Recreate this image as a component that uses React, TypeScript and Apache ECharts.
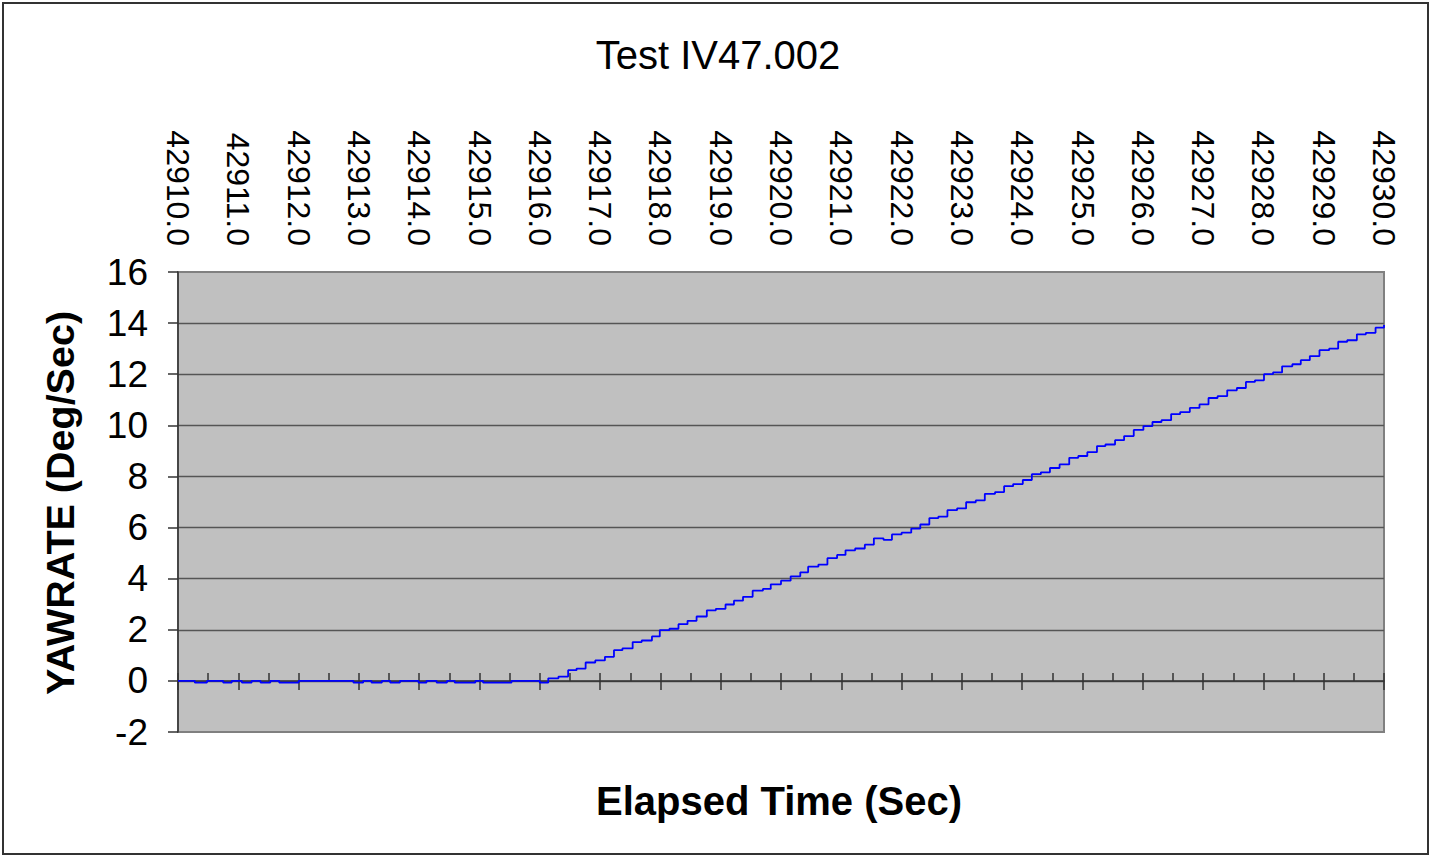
import React, { useEffect, useRef } from "react";
import * as echarts from "echarts";

const TITLE = "Test IV47.002";
const X_NAME = "Elapsed Time (Sec)";
const Y_NAME = "YAWRATE (Deg/Sec)";

const X_MIN = 42910;
const X_MAX = 42930;
const Y_MIN = -2;
const Y_MAX = 16;

// step change times (s) and the value held from that time on
const TIME = [
  42910.0, 42910.28, 42910.48, 42910.75, 42910.89, 42911.06, 42911.22, 42911.37, 42911.53, 42911.68,
  42912.0, 42912.91, 42913.07, 42913.21, 42913.38, 42913.52, 42913.68, 42913.99, 42914.12, 42914.29,
  42914.46, 42914.59, 42914.93, 42915.06, 42915.53, 42916.0,
  42916.14, 42916.31, 42916.47, 42916.61, 42916.76, 42916.92, 42917.08, 42917.23, 42917.37, 42917.54,
  42917.69, 42917.86, 42917.99, 42918.15, 42918.3, 42918.45, 42918.6, 42918.77, 42918.92, 42919.08,
  42919.22, 42919.37, 42919.53, 42919.7, 42919.83, 42920.0, 42920.16, 42920.32, 42920.45, 42920.62,
  42920.77, 42920.93, 42921.07, 42921.23, 42921.39, 42921.54, 42921.7, 42921.84, 42922.0, 42922.16,
  42922.31, 42922.46, 42922.61, 42922.76, 42922.92, 42923.07, 42923.23, 42923.38, 42923.55, 42923.7,
  42923.85, 42924.01, 42924.16, 42924.31, 42924.46, 42924.62, 42924.78, 42924.93, 42925.08, 42925.24,
  42925.38, 42925.54, 42925.69, 42925.85, 42926.01, 42926.16, 42926.31, 42926.47, 42926.62, 42926.78,
  42926.94, 42927.09, 42927.24, 42927.4, 42927.56, 42927.71, 42927.86, 42928.01, 42928.16, 42928.31,
  42928.48, 42928.62, 42928.77, 42928.93, 42929.09, 42929.24, 42929.39, 42929.55, 42929.7, 42929.86,
  42930.0,
];

const YAWRATE = [
  0, -0.07, 0, -0.07, 0, -0.07, 0, -0.07, 0, -0.07,
  0, -0.07, 0, -0.07, 0, -0.07, 0, -0.07, 0, -0.07,
  0, -0.07, 0, -0.07, 0, -0.07,
  0.1, 0.17, 0.42, 0.48, 0.72, 0.8, 0.94, 1.2, 1.27, 1.52,
  1.58, 1.74, 1.99, 2.04, 2.22, 2.35, 2.52, 2.76, 2.82, 2.99,
  3.14, 3.29, 3.53, 3.6, 3.78, 3.92, 4.09, 4.25, 4.47, 4.55,
  4.8, 4.93, 5.11, 5.18, 5.33, 5.58, 5.52, 5.73, 5.8, 5.96,
  6.12, 6.37, 6.43, 6.68, 6.75, 6.99, 7.06, 7.32, 7.39, 7.62,
  7.7, 7.86, 8.09, 8.16, 8.33, 8.47, 8.73, 8.8, 8.95, 9.19,
  9.25, 9.42, 9.58, 9.82, 9.97, 10.13, 10.2, 10.44, 10.52, 10.68,
  10.82, 11.07, 11.14, 11.37, 11.46, 11.7, 11.76, 12.0, 12.07, 12.31,
  12.39, 12.55, 12.71, 12.94, 13.0, 13.27, 13.33, 13.56, 13.62, 13.82,
  13.93,
];

const FONT = "'Liberation Sans', Arial, sans-serif";

export default function App() {
  const ref = useRef<HTMLDivElement>(null);

  useEffect(() => {
    if (!ref.current) return;
    const chart = echarts.init(ref.current, undefined, { renderer: "svg" });
    const data = TIME.map((t, i) => [t, YAWRATE[i]]);

    chart.setOption({
      animation: false,
      backgroundColor: "#ffffff",
      textStyle: { fontFamily: FONT },
      grid: {
        left: 178,
        top: 272,
        right: 50,
        bottom: 124,
        show: true,
        backgroundColor: "#C0C0C0",
        borderColor: "#808080",
        borderWidth: 2,
      },
      graphic: [
        {
          type: "rect",
          shape: { x: 3, y: 3, width: 1425, height: 851 },
          style: { fill: "none", stroke: "#333333", lineWidth: 2 },
          silent: true,
        },
        {
          type: "text",
          x: 718,
          y: 55,
          style: {
            text: TITLE,
            fontFamily: FONT,
            fontSize: 40,
            fill: "#000",
            textAlign: "center",
            textVerticalAlign: "middle",
          },
        },
        {
          type: "text",
          x: 779,
          y: 801,
          style: {
            text: X_NAME,
            fontFamily: FONT,
            fontSize: 40,
            fontWeight: "bold",
            fill: "#000",
            textAlign: "center",
            textVerticalAlign: "middle",
          },
        },
        {
          type: "text",
          x: 60,
          y: 503,
          rotation: Math.PI / 2,
          style: {
            text: Y_NAME,
            fontFamily: FONT,
            fontSize: 39.5,
            fontWeight: "bold",
            fill: "#000",
            textAlign: "center",
            textVerticalAlign: "middle",
          },
        },
      ],
      xAxis: [
        {
          type: "value",
          position: "top",
          min: X_MIN,
          max: X_MAX,
          interval: 1,
          axisLine: { show: false, onZero: false },
          axisTick: { show: false },
          splitLine: { show: false },
          axisLabel: {
            rotate: 90,
            margin: 26,
            fontSize: 32,
            color: "#000",
            fontFamily: FONT,
            formatter: (v: number) => v.toFixed(1),
          },
        },
        {
          type: "value",
          position: "bottom",
          min: X_MIN,
          max: X_MAX,
          interval: 0.5,
          axisLine: { show: true, onZero: true, onZeroAxisIndex: 0, lineStyle: { color: "#333", width: 1.5 } },
          axisTick: { show: true, inside: true, length: 8, lineStyle: { color: "#333", width: 1.5 } },
          axisLabel: { show: false },
          splitLine: { show: false },
        },
        {
          type: "value",
          position: "bottom",
          min: X_MIN,
          max: X_MAX,
          interval: 1,
          axisLine: { show: false, onZero: true, onZeroAxisIndex: 0 },
          axisTick: { show: true, inside: false, length: 9, lineStyle: { color: "#333", width: 1.5 } },
          axisLabel: { show: false },
          splitLine: { show: false },
        },
      ],
      yAxis: {
        type: "value",
        min: Y_MIN,
        max: Y_MAX,
        interval: 2,
        axisLine: { show: true, onZero: false, lineStyle: { color: "#333", width: 1.5 } },
        axisTick: { show: true, length: 10, lineStyle: { color: "#333", width: 1.5 } },
        axisLabel: { fontSize: 37, margin: 30, color: "#000", fontFamily: FONT },
        splitLine: {
          show: true,
          showMinLine: false,
          showMaxLine: false,
          lineStyle: { color: "#555555", width: 1.3 },
        },
      },
      series: [
        {
          type: "line",
          xAxisIndex: 0,
          yAxisIndex: 0,
          data,
          step: "end",
          showSymbol: false,
          symbol: "none",
          lineStyle: { color: "#0000FF", width: 1.8 },
        },
      ],
    });

    return () => chart.dispose();
  }, []);

  return (
    <div
      ref={ref}
      style={{ position: "fixed", left: 0, top: 0, width: 1434, height: 856 }}
    />
  );
}
